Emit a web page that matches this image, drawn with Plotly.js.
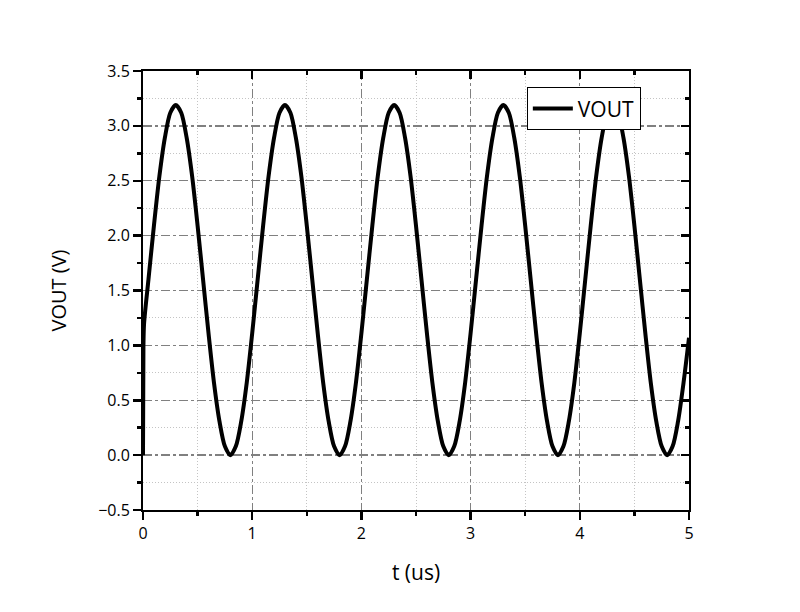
<!DOCTYPE html>
<html>
<head>
<meta charset="utf-8">
<script src="https://cdn.plot.ly/plotly-3.0.1.min.js"></script>
<style>html,body{margin:0;padding:0;background:#fff;}#chart{width:800px;height:612px;}</style>
</head>
<body>
<div id="chart"></div>
<script>
// Time (us) and VOUT (V)
const t_us = [0, 0.004, 0.01,
  0.05, 0.10, 0.15, 0.20, 0.25, 0.30, 0.35, 0.40, 0.45, 0.50, 0.55, 0.60, 0.65, 0.70, 0.75, 0.80, 0.85, 0.90, 0.95,
  1.00, 1.05, 1.10, 1.15, 1.20, 1.25, 1.30, 1.35, 1.40, 1.45, 1.50, 1.55, 1.60, 1.65, 1.70, 1.75, 1.80, 1.85, 1.90, 1.95,
  2.00, 2.05, 2.10, 2.15, 2.20, 2.25, 2.30, 2.35, 2.40, 2.45, 2.50, 2.55, 2.60, 2.65, 2.70, 2.75, 2.80, 2.85, 2.90, 2.95,
  3.00, 3.05, 3.10, 3.15, 3.20, 3.25, 3.30, 3.35, 3.40, 3.45, 3.50, 3.55, 3.60, 3.65, 3.70, 3.75, 3.80, 3.85, 3.90, 3.95,
  4.00, 4.05, 4.10, 4.15, 4.20, 4.25, 4.30, 4.35, 4.40, 4.45, 4.50, 4.55, 4.60, 4.65, 4.70, 4.75, 4.80, 4.85, 4.90, 4.95,
  5.00];
const vout = [0, 1.00, 1.20,
  1.60, 2.09, 2.54, 2.89, 3.12, 3.19, 3.12, 2.89, 2.54, 2.09, 1.60, 1.11, 0.66, 0.31, 0.08, 0.00, 0.08, 0.31, 0.66,
  1.11, 1.60, 2.09, 2.54, 2.89, 3.12, 3.19, 3.12, 2.89, 2.54, 2.09, 1.60, 1.11, 0.66, 0.31, 0.08, 0.00, 0.08, 0.31, 0.66,
  1.11, 1.60, 2.09, 2.54, 2.89, 3.12, 3.19, 3.12, 2.89, 2.54, 2.09, 1.60, 1.11, 0.66, 0.31, 0.08, 0.00, 0.08, 0.31, 0.66,
  1.11, 1.60, 2.09, 2.54, 2.89, 3.12, 3.19, 3.12, 2.89, 2.54, 2.09, 1.60, 1.11, 0.66, 0.31, 0.08, 0.00, 0.08, 0.31, 0.66,
  1.11, 1.60, 2.09, 2.54, 2.89, 3.12, 3.19, 3.12, 2.89, 2.54, 2.09, 1.60, 1.11, 0.66, 0.31, 0.08, 0.00, 0.08, 0.31, 0.66,
  1.07];
const seriesName = 'VOUT';
const xTitle = 't (us)';
const yTitle = 'VOUT (V)';
const xRange = [0, 5];
const yRange = [-0.5, 3.5];

const font = '"Open Sans", "Noto Sans", "DejaVu Sans", sans-serif';

const traces = [
  {x: t_us, y: vout, type: 'scatter', mode: 'lines', name: seriesName,
   line: {color: '#000000', width: 4, shape: 'spline', smoothing: 0.8}},
  {x: t_us, y: vout, type: 'scatter', mode: 'lines', xaxis: 'x2', yaxis: 'y2',
   opacity: 0, showlegend: false, hoverinfo: 'skip'}
];

const majorGrid = {showgrid: true, gridcolor: '#808080', gridwidth: 1.3, griddash: '9px,3px,3px,3px'};
const minorGridStyle = {showgrid: true, gridcolor: '#c4c4c4', gridwidth: 1, griddash: '1px,2px'};

const layout = {
  width: 800, height: 612,
  paper_bgcolor: '#ffffff', plot_bgcolor: '#ffffff',
  margin: {l: 143, r: 111, t: 71, b: 102},
  font: {family: font, color: '#000000'},
  showlegend: true,
  legend: {x: 0.703, y: 0.963, xanchor: 'left', yanchor: 'top',
           bgcolor: '#ffffff', bordercolor: '#000000', borderwidth: 1,
           itemwidth: 40,
           font: {size: 21, family: font}},
  xaxis: Object.assign({
    range: xRange, dtick: 1, tick0: 0,
    showline: true, linecolor: '#000000', linewidth: 2,
    ticks: 'outside', ticklen: 8, tickwidth: 2.5, tickcolor: '#000000',
    tickfont: {size: 16, family: font},
    zeroline: false,
    minor: Object.assign({dtick: 0.5, ticks: 'outside', ticklen: 4, tickwidth: 2.5, tickcolor: '#000000'}, minorGridStyle),
    title: {text: xTitle, font: {size: 21, family: font}, standoff: 22}
  }, majorGrid),
  yaxis: Object.assign({
    range: yRange, dtick: 0.5, tick0: 0,
    showline: true, linecolor: '#000000', linewidth: 2,
    ticks: 'outside', ticklen: 8, tickwidth: 2.5, tickcolor: '#000000',
    tickfont: {size: 16, family: font}, tickformat: '.1f',
    zeroline: false,
    minor: Object.assign({dtick: 0.25, ticks: 'outside', ticklen: 4, tickwidth: 2.5, tickcolor: '#000000'}, minorGridStyle),
    title: {text: yTitle, font: {size: 20, family: font}, standoff: 26}
  }, majorGrid),
  xaxis2: {
    overlaying: 'x', side: 'top', range: xRange, dtick: 1, tick0: 0,
    showline: true, linecolor: '#000000', linewidth: 2,
    ticks: 'inside', ticklen: 8, tickwidth: 2.5, tickcolor: '#000000',
    showticklabels: false, showgrid: false, zeroline: false,
    minor: {dtick: 0.5, ticks: 'inside', ticklen: 4, tickwidth: 2.5, tickcolor: '#000000', showgrid: false}
  },
  yaxis2: {
    overlaying: 'y', side: 'right', range: yRange, dtick: 0.5, tick0: 0,
    showline: true, linecolor: '#000000', linewidth: 2,
    ticks: 'inside', ticklen: 8, tickwidth: 2.5, tickcolor: '#000000',
    showticklabels: false, showgrid: false, zeroline: false,
    minor: {dtick: 0.25, ticks: 'inside', ticklen: 4, tickwidth: 2.5, tickcolor: '#000000', showgrid: false}
  }
};

Plotly.newPlot('chart', traces, layout, {displayModeBar: false, staticPlot: true});
</script>
</body>
</html>
